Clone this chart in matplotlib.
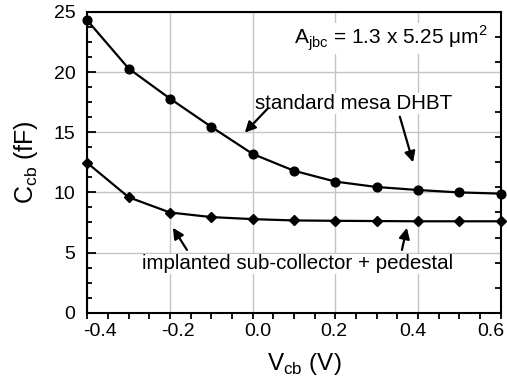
import numpy as np
import matplotlib
matplotlib.use('Agg')
import matplotlib.pyplot as plt
import matplotlib.transforms as mtransforms
from matplotlib.ticker import MultipleLocator

plt.rcParams['font.family'] = ['Liberation Sans', 'DejaVu Sans']
plt.rcParams['mathtext.fontset'] = 'custom'
plt.rcParams['mathtext.rm'] = 'Liberation Sans'

# ------------------------------------------------------------------------------
# data
vcb = [-0.4, -0.3, -0.2, -0.1, 0.0, 0.1, 0.2, 0.3, 0.4, 0.5, 0.6]
c_mesa = [24.3, 20.3, 17.8, 15.45, 13.2, 11.8, 10.9, 10.45, 10.2, 10.0, 9.9]
c_implant = [12.45, 9.6, 8.33, 7.95, 7.78, 7.67, 7.64, 7.62, 7.6, 7.6, 7.6]

xticks = [-0.4, -0.2, 0.0, 0.2, 0.4, 0.6]
xticklabels = ['-0.4', '-0.2', '0.0', '0.2', '0.4', '0.6']

fig = plt.figure(figsize=(5.07, 3.82), dpi=100)
ax = fig.add_axes([0.1722, 0.1814, 0.8154, 0.7872])

ax.plot(vcb, c_mesa, '-o', color='black', lw=1.6, ms=6.3, clip_on=False, zorder=4)
ax.plot(vcb, c_implant, '-D', color='black', lw=1.6, ms=5.0, clip_on=False, zorder=4)

ax.set_xlim(-0.4, 0.6)
ax.set_ylim(0, 25)
ax.set_xticks(xticks)
ax.set_xticklabels(xticklabels)
ax.xaxis.set_minor_locator(MultipleLocator(0.05))
ax.yaxis.set_major_locator(MultipleLocator(5))
ax.yaxis.set_minor_locator(MultipleLocator(1.25))

ax.grid(True, which='major', color='#c4c4c4', lw=1.0)
ax.set_axisbelow(True)

for s in ax.spines.values():
    s.set_linewidth(1.5)

ax.tick_params(axis='x', which='both', direction='out', length=4.2, width=1.3,
               labelsize=14, pad=3.3, top=False)
ax.tick_params(axis='y', which='major', direction='in', length=6.5, width=1.3,
               labelsize=14, pad=8.6, right=False)
ax.tick_params(axis='y', which='minor', direction='in', length=3.8, width=1.3,
               right=False)

# the original's x labels drift slightly off their ticks, nudge them (pixels)
nudge = [13, 8, 5, -2, -5.5, -10]
for lab, dx in zip(ax.get_xticklabels(), nudge):
    lab.set_transform(lab.get_transform() +
                      mtransforms.ScaledTranslation(dx / 100, 0, fig.dpi_scale_trans))

# right-hand axis only carries its own inward ticks
ax2 = ax.twinx()
ax2.set_ylim(0, 12)
ax2.yaxis.set_major_locator(MultipleLocator(1))
ax2.tick_params(axis='y', direction='in', length=4.2, width=1.3, labelright=False)
for s in ax2.spines.values():
    s.set_visible(False)

ax.set_xlabel(r'V$_{\mathregular{cb}}$ (V)', fontsize=17.5)
ax.xaxis.set_label_coords(0.525, -0.128)
ax.set_ylabel(r'C$_{\mathregular{cb}}$ (fF)', fontsize=18, labelpad=10)

box = dict(facecolor='white', edgecolor='none', pad=0.5)

ax.text(0.335, 22.3, r'A$_{\mathregular{jbc}}$ = 1.3 x 5.25 μm$^{\mathregular{2}}$',
        fontsize=15, ha='center', va='baseline', bbox=box, zorder=3)
ax.text(0.245, 17.4, 'standard mesa DHBT', fontsize=14.8, ha='center', va='center',
        bbox=box, zorder=3)
ax.text(0.108, 4.05, 'implanted sub-collector + pedestal', fontsize=14.8,
        ha='center', va='center', bbox=box, zorder=3)

arrow = dict(arrowstyle='-|>', color='black', lw=1.6, mutation_scale=16,
             shrinkA=0, shrinkB=0)
ax.annotate('', xy=(-0.019, 14.97), xytext=(0.037, 17.0), arrowprops=arrow, zorder=5)
ax.annotate('', xy=(0.388, 12.5), xytext=(0.356, 16.3), arrowprops=arrow, zorder=5)
ax.annotate('', xy=(-0.193, 7.06), xytext=(-0.159, 5.22), arrowprops=arrow, zorder=5)
ax.annotate('', xy=(0.373, 7.06), xytext=(0.361, 5.22), arrowprops=arrow, zorder=5)

fig.savefig('out.png', dpi=100)
